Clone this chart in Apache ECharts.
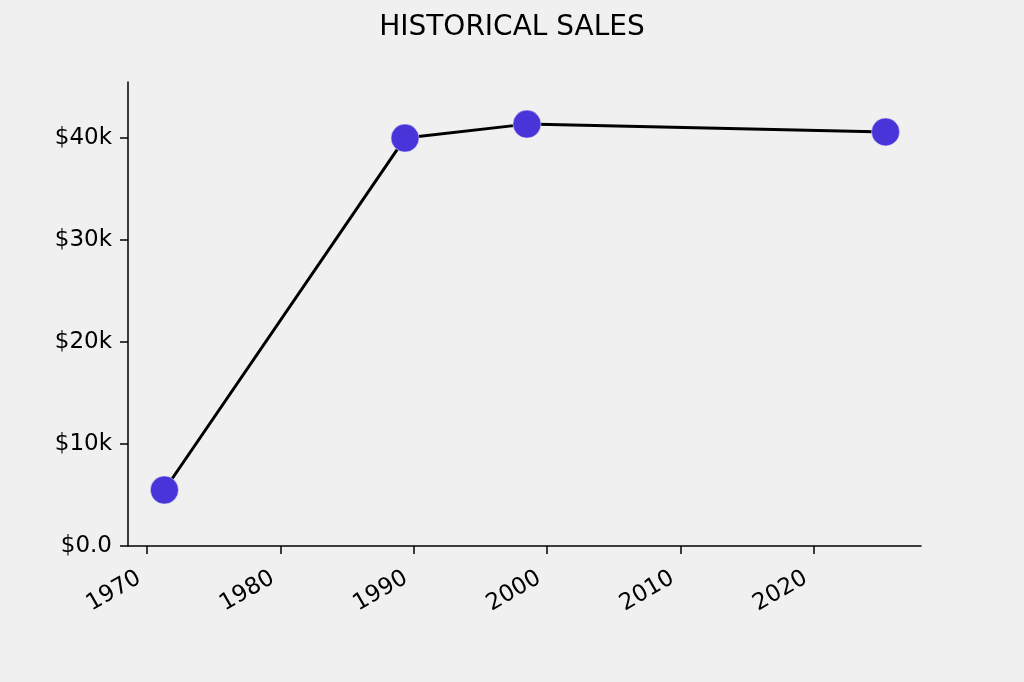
<!DOCTYPE html>
<html>
<head>
<meta charset="utf-8">
<script src="https://cdn.jsdelivr.net/npm/echarts@6/dist/echarts.min.js"></script>
<style>
html,body{margin:0;padding:0;background:#f0f0f0;}
#c{width:1024px;height:682px;}
</style>
</head>
<body>
<div id="c"></div>
<script>
const years = [1971.3, 1989.35, 1998.5, 2025.4];
const sales = [5490, 40000, 41370, 40600];
const xTicks = [1970, 1980, 1990, 2000, 2010, 2020];
const yTicks = [0, 10000, 20000, 30000, 40000];
const titleText = 'HISTORICAL SALES';

const chart = echarts.init(document.getElementById('c'), null, {renderer: 'canvas'});
const font = 'DejaVu Sans';
chart.setOption({
  backgroundColor: '#f0f0f0',
  animation: false,
  title: {
    text: titleText, left: 'center', top: 9,
    textStyle: {fontFamily: font, fontSize: 28, fontWeight: 'normal', color: '#000'}
  },
  grid: {left: 128, top: 82, right: 103, bottom: 136, containLabel: false},
  xAxis: {
    type: 'value', min: 1968.57, max: 2028.06,
    splitLine: {show: false},
    axisLine: {onZero: false, lineStyle: {color: '#000', width: 1.5}},
    axisTick: {show: true, length: 8, lineStyle: {color: '#000', width: 1.5}, customValues: xTicks},
    axisLabel: {customValues: xTicks, rotate: 30, fontFamily: font, fontSize: 23, color: '#000', margin: 26,
      padding: [0, 9, 0, 0],
      formatter: v => String(Math.round(v))}
  },
  yAxis: {
    type: 'value', min: 0, max: 45500,
    splitLine: {show: false},
    axisLine: {show: true, lineStyle: {color: '#000', width: 1.5}},
    axisTick: {show: true, length: 8, lineStyle: {color: '#000', width: 1.5}, customValues: yTicks},
    axisLabel: {customValues: yTicks, fontFamily: font, fontSize: 23, color: '#000', margin: 16,
      padding: [4, 0, 0, 0],
      formatter: v => v === 0 ? '$0.0' : '$' + Math.round(v / 1000) + 'k'}
  },
  series: [{
    type: 'line',
    data: years.map((y, i) => [y, sales[i]]),
    symbol: 'circle', symbolSize: 28,
    lineStyle: {color: '#000', width: 3},
    itemStyle: {color: '#4834d9', borderColor: '#f0f0f0', borderWidth: 0.5}
  }]
});
</script>
</body>
</html>
